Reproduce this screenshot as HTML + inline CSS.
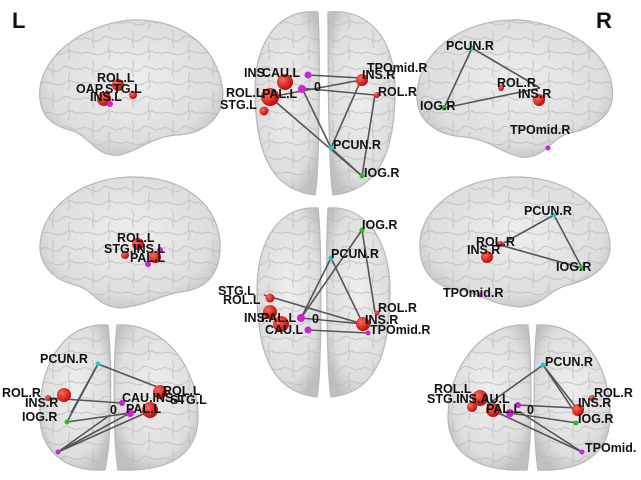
<!DOCTYPE html>
<html><head><meta charset="utf-8"><style>
html,body{margin:0;padding:0;background:#fff;width:641px;height:480px;overflow:hidden}
svg text{font-family:"Liberation Sans",Arial,sans-serif;font-weight:bold;font-size:12.5px;fill:#111}
</style></head><body>
<svg width="641" height="480" viewBox="0 0 641 480" xmlns="http://www.w3.org/2000/svg">
<defs>
<radialGradient id="b" cx="50%" cy="45%" r="60%"><stop offset="0" stop-color="#eeeeee"/><stop offset="0.75" stop-color="#dedede"/><stop offset="1" stop-color="#c0c0c0"/></radialGradient>
<radialGradient id="r" cx="35%" cy="35%" r="65%"><stop offset="0" stop-color="#ff6a5a"/><stop offset="1" stop-color="#c00c0c"/></radialGradient>
<pattern id="g" width="40" height="30" patternUnits="userSpaceOnUse">
<path d="M0,10 C8,2 14,18 22,8 C28,2 34,14 40,8 M0,24 C10,18 16,30 26,22 C32,18 36,26 40,22 M12,0 C16,6 10,12 14,18 M30,12 C26,18 32,24 28,30" stroke="#b8b8b8" stroke-width="1" fill="none" opacity="0.7"/>
</pattern>
<g id="shapes">
<path d="M40,100 C35,60 80,25 130,20 C180,18 215,45 222,85 C228,115 205,135 175,135 C150,138 140,150 120,155 C95,158 90,135 70,130 C50,125 42,115 40,100Z"/>
<path d="M318,12 C280,8 255,40 255,90 C255,150 270,190 315,195 C320,170 320,40 318,12Z"/>
<path d="M328,12 C370,8 395,40 395,90 C395,150 380,190 333,195 C328,170 328,40 328,12Z"/>
<path d="M612,100 C618,60 575,25 520,20 C470,18 425,45 418,85 C412,115 430,135 465,137 C490,140 500,152 520,157 C545,160 550,138 570,133 C595,128 610,115 612,100Z"/>
<path d="M40,250 C38,210 80,178 130,177 C180,176 215,200 220,240 C222,275 205,290 180,292 C160,295 150,305 120,308 C95,306 95,290 75,285 C55,280 42,268 40,250Z"/>
<path d="M318,208 C280,205 257,240 257,290 C257,350 270,392 317,397 C322,370 322,240 318,208Z"/>
<path d="M328,208 C365,205 390,240 390,290 C390,350 378,392 331,397 C326,370 326,240 328,208Z"/>
<path d="M610,250 C612,210 570,178 520,177 C470,176 425,200 420,240 C418,272 435,288 460,290 C480,293 490,305 520,307 C545,305 548,290 568,285 C590,280 608,268 610,250Z"/>
<path d="M108,325 C60,322 38,370 40,420 C42,455 70,472 105,470 C112,440 112,360 108,325Z"/>
<path d="M117,325 C165,322 200,370 198,420 C196,455 170,472 118,470 C113,440 113,360 117,325Z"/>
<path d="M528,325 C480,322 447,370 448,420 C450,455 480,472 527,470 C532,440 532,360 528,325Z"/>
<path d="M537,325 C585,322 612,370 610,420 C608,455 580,472 538,470 C533,440 533,360 537,325Z"/>
</g>
</defs>
<use href="#shapes" fill="url(#b)" stroke="#b8b8b8" stroke-width="1.2"/>
<use href="#shapes" fill="url(#g)" stroke="none"/>
<g stroke="#555" stroke-width="1.6" fill="none">
<line x1="308" y1="75" x2="361" y2="78"/><line x1="300" y1="88" x2="375" y2="95"/>
<line x1="270" y1="97" x2="361" y2="80"/><line x1="270" y1="97" x2="362" y2="176"/>
<line x1="302" y1="88" x2="331" y2="148"/><line x1="361" y1="80" x2="331" y2="148"/>
<line x1="375" y1="95" x2="362" y2="176"/><line x1="331" y1="148" x2="362" y2="176"/>
<line x1="472" y1="48" x2="444" y2="108"/><line x1="472" y1="48" x2="540" y2="88"/><line x1="444" y1="108" x2="540" y2="88"/>
<line x1="362" y1="230" x2="301" y2="318"/><line x1="362" y1="230" x2="375" y2="312"/>
<line x1="331" y1="258" x2="301" y2="318"/><line x1="331" y1="258" x2="363" y2="324"/>
<line x1="264" y1="295" x2="363" y2="324"/><line x1="301" y1="318" x2="363" y2="324"/>
<line x1="308" y1="330" x2="368" y2="333"/>
<line x1="554" y1="215" x2="500" y2="245"/><line x1="554" y1="215" x2="582" y2="268"/><line x1="500" y1="245" x2="582" y2="268"/>
<line x1="98" y1="364" x2="67" y2="422"/><line x1="98" y1="364" x2="71" y2="413"/><line x1="98" y1="364" x2="160" y2="388"/>
<line x1="49" y1="398" x2="122" y2="403"/><line x1="67" y1="422" x2="130" y2="413"/>
<line x1="58" y1="452" x2="110" y2="415"/><line x1="58" y1="452" x2="150" y2="411"/><line x1="58" y1="452" x2="130" y2="413"/>
<line x1="543" y1="365" x2="487" y2="405"/><line x1="543" y1="365" x2="576" y2="414"/><line x1="543" y1="365" x2="582" y2="415"/>
<line x1="518" y1="405" x2="576" y2="408"/><line x1="510" y1="413" x2="577" y2="423"/>
<line x1="492" y1="410" x2="582" y2="452"/><line x1="520" y1="412" x2="582" y2="452"/>
</g>
<g fill="url(#r)">
<circle cx="118" cy="85" r="6"/><circle cx="133" cy="95" r="4"/><circle cx="104" cy="99" r="7"/>
<circle cx="285" cy="82" r="8"/><circle cx="270" cy="97" r="9"/><circle cx="264" cy="111" r="4.5"/><circle cx="362" cy="80" r="6"/><circle cx="377" cy="95" r="3"/>
<circle cx="539" cy="100" r="6"/><circle cx="501" cy="88" r="3"/>
<circle cx="138" cy="244" r="6"/><circle cx="125" cy="255" r="4"/><circle cx="155" cy="257" r="6"/>
<circle cx="487" cy="257" r="6"/><circle cx="500" cy="244" r="3"/>
<circle cx="270" cy="298" r="4.5"/><circle cx="270" cy="312" r="7"/><circle cx="281" cy="324" r="8"/><circle cx="363" cy="324" r="7"/><circle cx="377" cy="313" r="2.5"/>
<circle cx="64" cy="395" r="7"/><circle cx="48" cy="398" r="3"/><circle cx="160" cy="392" r="7"/><circle cx="150" cy="410" r="8"/>
<circle cx="480" cy="398" r="8"/><circle cx="472" cy="407" r="5"/><circle cx="493" cy="410" r="7"/><circle cx="578" cy="410" r="6"/><circle cx="592" cy="398" r="3"/>
</g>
<g fill="#d020d8">
<circle cx="110" cy="104" r="3"/><circle cx="308" cy="75" r="3.5"/><circle cx="302" cy="89" r="4"/>
<circle cx="548" cy="148" r="2.5"/><circle cx="160" cy="250" r="3"/><circle cx="148" cy="264" r="3"/>
<circle cx="480" cy="295" r="2.5"/><circle cx="301" cy="318" r="4"/><circle cx="308" cy="330" r="3.5"/><circle cx="368" cy="333" r="2.5"/>
<circle cx="122" cy="403" r="3"/><circle cx="130" cy="413" r="4"/><circle cx="58" cy="452" r="2.5"/>
<circle cx="518" cy="405" r="3"/><circle cx="510" cy="413" r="4"/><circle cx="582" cy="452" r="2.5"/>
</g>
<g fill="#20c8c8"><circle cx="331" cy="148" r="2.5"/><circle cx="472" cy="48" r="2.5"/><circle cx="554" cy="215" r="2.5"/><circle cx="331" cy="258" r="2.5"/><circle cx="98" cy="364" r="2.5"/><circle cx="543" cy="365" r="2.5"/></g>
<g fill="#20c020"><circle cx="362" cy="176" r="2.5"/><circle cx="444" cy="108" r="2.5"/><circle cx="582" cy="268" r="2.5"/><circle cx="362" cy="230" r="2.5"/><circle cx="67" cy="422" r="2.5"/><circle cx="576" cy="423" r="2.5"/></g>
<text x="12" y="28" style="font-size:22px;font-weight:bold">L</text>
<text x="596" y="28" style="font-size:22px;font-weight:bold">R</text>
<text x="97" y="82">ROL.L</text><text x="76" y="93">OAP.STG.L</text><text x="90" y="101">INS.L</text>
<text x="244" y="77">INS.</text><text x="262" y="77">CAU.L</text><text x="262" y="98">PAL.L</text><text x="226" y="97">ROL.L</text><text x="220" y="109">STG.L</text>
<text x="314" y="91">0</text>
<text x="367" y="72">TPOmid.R</text><text x="362" y="79">INS.R</text><text x="378" y="96">ROL.R</text>
<text x="333" y="149">PCUN.R</text><text x="364" y="177">IOG.R</text>
<text x="446" y="50">PCUN.R</text><text x="497" y="87">ROL.R</text><text x="518" y="98">INS.R</text>
<text x="420" y="110">IOG.R</text><text x="510" y="134">TPOmid.R</text>
<text x="117" y="242">ROL.L</text><text x="104" y="253">STG.INS.L</text><text x="130" y="262">PAL.L</text>
<text x="362" y="229">IOG.R</text><text x="331" y="258">PCUN.R</text><text x="218" y="295">STG.L</text><text x="223" y="304">ROL.L</text>
<text x="244" y="322">INS.</text><text x="261" y="322">PAL.L</text><text x="265" y="334">CAU.L</text><text x="312" y="323">0</text>
<text x="378" y="312">ROL.R</text><text x="365" y="324">INS.R</text><text x="370" y="334">TPOmid.R</text>
<text x="524" y="215">PCUN.R</text><text x="476" y="246">ROL.R</text><text x="467" y="254">INS.R</text>
<text x="556" y="271">IOG.R</text><text x="443" y="297">TPOmid.R</text>
<text x="40" y="363">PCUN.R</text><text x="2" y="397">ROL.R</text><text x="25" y="407">INS.R</text><text x="22" y="421">IOG.R</text>
<text x="122" y="402">CAU.INS.L</text><text x="163" y="395">ROL.L</text><text x="170" y="404">STG.L</text><text x="126" y="413">PAL.L</text><text x="110" y="414">0</text>
<text x="545" y="366">PCUN.R</text><text x="434" y="393">ROL.L</text><text x="427" y="403">STG.INS.AU.L</text><text x="486" y="413">PAL.L</text><text x="527" y="414">0</text>
<text x="594" y="397">ROL.R</text><text x="578" y="407">INS.R</text><text x="578" y="423">IOG.R</text><text x="585" y="452">TPOmid.</text>
</svg>
</body></html>
